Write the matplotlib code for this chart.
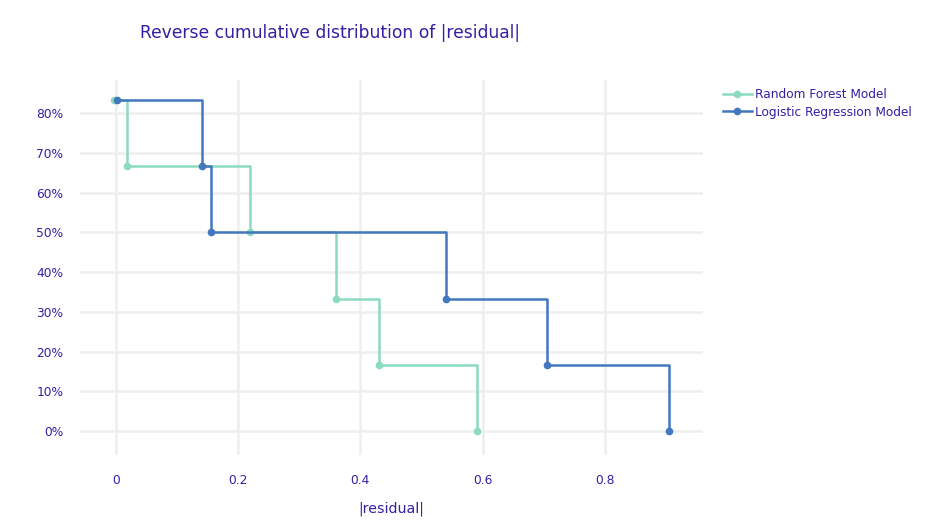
import matplotlib
matplotlib.use("Agg")
import matplotlib.pyplot as plt
from matplotlib.ticker import FuncFormatter

plt.rcParams['font.family'] = ['DejaVu Sans']

# residuals
rf_resid = [-0.004, 0.018, 0.22, 0.36, 0.43, 0.591]
lr_resid = [0.002, 0.141, 0.155, 0.541, 0.706, 0.905]
share = [83.33, 66.67, 50.0, 33.33, 16.67, 0.0]
x_ticks = [0, 0.2, 0.4, 0.6, 0.8]
y_ticks = [0, 10, 20, 30, 40, 50, 60, 70, 80]

text_col = '#371ea3'
grid_col = '#eeeeee'

fig = plt.figure(figsize=(9.28, 5.25), dpi=100)
ax = fig.add_axes([80 / 928, 1 - 455 / 525, 623 / 928, 375 / 525])

ax.plot(rf_resid, share, drawstyle='steps-post', color='#8bdcbe', lw=1.8,
        marker='o', ms=4.5, label='Random Forest Model', zorder=3)
ax.plot(lr_resid, share, drawstyle='steps-post', color='#4378bf', lw=1.8,
        marker='o', ms=4.5, label='Logistic Regression Model', zorder=4)

ax.set_xlim(-0.059, 0.961)
ax.set_ylim(-6.0, 88.3)
ax.set_xticks(x_ticks)
ax.set_yticks(y_ticks)
ax.xaxis.set_major_formatter(FuncFormatter(lambda v, p: '0' if v == 0 else f'{v:g}'))
ax.yaxis.set_major_formatter(FuncFormatter(lambda v, p: f'{v:.0f}%'))
ax.grid(True, color=grid_col, lw=1.8)
ax.set_axisbelow(True)
for s in ax.spines.values():
    s.set_visible(False)
ax.tick_params(length=0, colors=text_col, labelsize=8.8)
ax.tick_params(axis='x', pad=14)
ax.tick_params(axis='y', pad=12)

ax.set_xlabel('|residual|', color=text_col, fontsize=10.2, labelpad=10)
fig.text(140 / 928, 1 - 33 / 525, 'Reverse cumulative distribution of |residual|',
         color=text_col, fontsize=12.3, va='center', ha='left')

leg = fig.legend(loc='upper left', bbox_to_anchor=(718 / 928, 1 - 83 / 525),
                 frameon=False, fontsize=8.7, labelcolor=text_col,
                 handlelength=2.4, handletextpad=0.3, labelspacing=0.4,
                 borderaxespad=0)

fig.savefig('out.png', dpi=100)
